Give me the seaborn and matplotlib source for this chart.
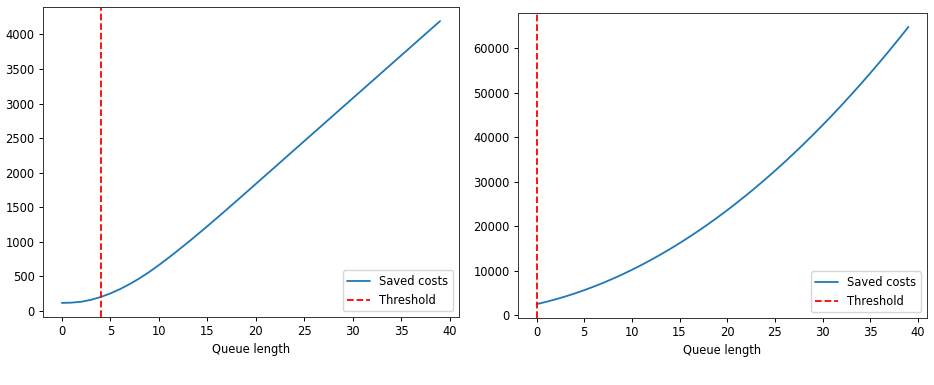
import matplotlib
matplotlib.use("Agg")
import matplotlib.pyplot as plt
import seaborn as sns
import pandas as pd

queue_length = list(range(40))

saved_costs_left = [115, 119, 132, 160, 200, 252, 315, 388, 470, 562,
                    662, 768, 878, 991, 1107, 1225, 1345, 1467, 1590, 1713,
                    1837, 1961, 2085, 2209, 2333, 2457, 2581, 2705, 2829, 2953,
                    3077, 3201, 3325, 3449, 3573, 3697, 3821, 3945, 4069, 4193]
threshold_left = 4

saved_costs_right = [2500, 3016, 3588, 4218, 4904, 5648, 6448, 7306, 8220, 9192,
                     10220, 11306, 12448, 13648, 14904, 16218, 17588, 19016, 20500, 22042,
                     23640, 25296, 27008, 28778, 30604, 32488, 34428, 36426, 38480, 40592,
                     42760, 44986, 47268, 49608, 52004, 54458, 56968, 59536, 62160, 64842]
threshold_right = 0

x_ticks = [0, 5, 10, 15, 20, 25, 30, 35, 40]

sns.set_style("white")
plt.rcParams.update({
    "font.family": ["DejaVu Sans"],
    "axes.edgecolor": "black",
    "xtick.bottom": True,
    "ytick.left": True,
    "xtick.color": "black",
    "ytick.color": "black",
    "axes.labelcolor": "black",
    "text.color": "black",
})

FS = 8.3
fig = plt.figure(figsize=(9.34, 3.85), dpi=100)
ax1 = fig.add_axes([0.046, 0.1766, 0.4454, 0.8052])
ax2 = fig.add_axes([0.5546, 0.174, 0.4379, 0.792])

for ax, vals, thr in [(ax1, saved_costs_left, threshold_left),
                      (ax2, saved_costs_right, threshold_right)]:
    df = pd.DataFrame({"Queue length": queue_length, "Saved costs": vals})
    sns.lineplot(data=df, x="Queue length", y="Saved costs", ax=ax,
                 color="#1f77b4", label="Saved costs", linewidth=1.3)
    ax.axvline(thr, color="red", linestyle=(0, (3.7, 1.6)), label="Threshold", linewidth=1.3)
    ax.set_ylabel("")
    ax.set_xlabel("Queue length", fontsize=FS, labelpad=3.5)
    ax.set_xticks(x_ticks)
    for s in ax.spines.values():
        s.set_visible(True)
        s.set_color("#333333")
        s.set_linewidth(0.7)
    ax.tick_params(length=3, width=0.7, labelsize=FS, pad=3)
    ax.legend(loc="lower right", fontsize=FS, frameon=True)

fig.savefig("out.png", dpi=100)
